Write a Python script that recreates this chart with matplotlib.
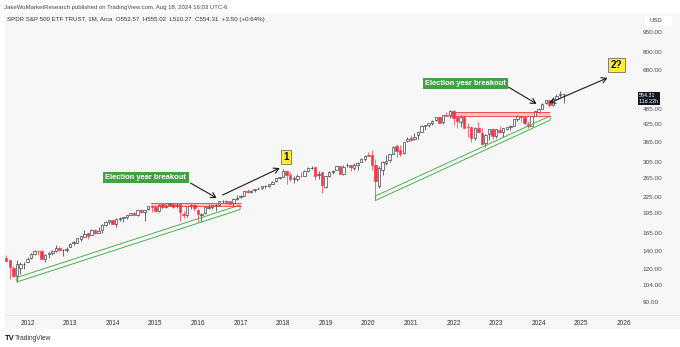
import matplotlib.pyplot as plt
import matplotlib.transforms as mtransforms
from matplotlib.patches import Rectangle, Polygon
from matplotlib.ticker import NullLocator
import numpy as np
import pandas as pd

plt.rcParams['font.family'] = ['Liberation Sans', 'DejaVu Sans']

# SPY monthly bars, Jun 2011 - Aug 2024
months = pd.date_range('2011-06-01', '2024-08-01', freq='MS')

opens = [
    134.9, 132.1, 129.9, 121.3, 113.3, 121.5, 124.9,                       # 2011
    127.8, 131.7, 137.2, 141.1, 140.6, 131.1, 136.4, 137.6, 140.8, 144.2, 141.6, 142.2,  # 2012
    145.1, 150.3, 151.1, 156.6, 159.3, 164.0, 161.9, 169.4, 165.0, 168.9, 176.0, 181.1,  # 2013
    183.9, 178.3, 185.9, 187.7, 188.2, 192.9, 196.1, 193.1, 200.6, 197.3, 201.9, 207.6,  # 2014
    206.4, 199.3, 211.3, 206.6, 209.4, 211.9, 207.5, 211.0, 194.0, 192.1, 208.4, 209.6,  # 2015
    200.5, 192.5, 195.0, 204.4, 206.9, 209.1, 209.5, 217.2, 217.4, 216.8, 212.9, 220.7,  # 2016
    225.0, 227.5, 237.0, 235.8, 238.7, 241.8, 242.9, 247.5, 247.9, 251.5, 258.0, 265.8,  # 2017
    267.8, 281.1, 272.7, 264.0, 263.9, 271.4, 270.4, 281.6, 290.6, 291.8, 271.6, 280.3,  # 2018
    245.9, 270.2, 280.0, 284.7, 294.7, 275.3, 296.7, 297.6, 290.6, 297.7, 304.9, 314.6,  # 2019
    323.5, 323.4, 298.2, 247.9, 285.3, 303.6, 309.6, 328.3, 350.4, 337.7, 330.2, 365.6,  # 2020
    375.3, 373.7, 385.6, 398.4, 419.4, 422.6, 428.9, 440.3, 452.1, 431.0, 460.3, 461.6,  # 2021
    476.3, 450.7, 432.0, 453.3, 414.0, 415.2, 376.6, 409.2, 392.9, 361.8, 390.1, 408.8,  # 2022
    384.4, 405.2, 395.4, 408.9, 415.5, 418.1, 442.9, 456.3, 453.2, 426.6, 419.2, 455.8,  # 2023
    472.2, 484.6, 509.0, 523.8, 501.4, 529.0, 545.6, 552.57,                # 2024
]
highs = [
    135.2, 135.7, 130.0, 123.3, 129.5, 127.3, 127.5,
    133.3, 137.5, 141.5, 142.2, 141.4, 136.5, 139.6, 142.2, 148.1, 146.2, 143.0, 145.5,
    150.6, 153.3, 157.2, 159.7, 169.1, 165.1, 170.0, 170.9, 173.6, 177.5, 181.8, 184.7,
    184.1, 186.6, 189.7, 189.0, 192.8, 196.5, 198.3, 200.6, 201.9, 201.5, 207.3, 209.4,
    206.9, 212.2, 212.0, 212.5, 213.8, 213.3, 213.0, 211.6, 200.0, 208.3, 211.0, 211.0,
    201.9, 196.0, 206.9, 210.9, 210.7, 212.5, 217.5, 219.6, 219.2, 217.3, 222.3, 228.3,
    229.7, 237.3, 240.3, 239.5, 242.1, 245.0, 248.0, 248.9, 251.3, 258.0, 265.5, 268.6,
    286.6, 283.3, 280.0, 269.9, 274.3, 279.5, 284.4, 291.7, 293.9, 291.9, 281.2, 280.4,
    270.5, 281.3, 284.4, 294.5, 294.9, 296.3, 302.2, 298.5, 302.6, 304.6, 315.5, 323.8,
    332.9, 339.1, 313.8, 294.9, 306.8, 323.4, 327.2, 351.3, 358.8, 354.0, 364.4, 378.5,
    385.8, 394.2, 398.0, 420.7, 422.8, 428.8, 441.8, 453.1, 454.1, 459.6, 473.5, 478.8,
    480.0, 458.1, 462.1, 457.8, 429.7, 417.4, 413.0, 431.7, 411.7, 389.5, 407.7, 410.5,
    408.2, 418.3, 409.7, 415.9, 422.6, 444.3, 459.4, 456.6, 453.7, 438.1, 456.4, 477.6,
    490.0, 509.0, 524.6, 524.4, 533.1, 550.3, 565.2, 555.02,
]
lows = [
    126.3, 128.7, 110.3, 112.0, 107.4, 115.1, 119.7,
    127.5, 131.5, 136.0, 135.8, 131.0, 127.1, 131.9, 135.9, 139.5, 140.3, 134.7, 138.9,
    145.0, 148.7, 151.0, 153.6, 158.6, 155.7, 161.2, 163.2, 163.7, 164.5, 174.7, 177.3,
    177.4, 173.7, 183.1, 181.3, 186.2, 192.0, 192.5, 190.6, 195.9, 181.9, 200.9, 196.9,
    198.6, 198.3, 203.3, 204.3, 207.3, 205.2, 203.8, 182.4, 187.1, 189.1, 202.3, 199.8,
    181.0, 181.1, 194.5, 203.1, 202.8, 198.7, 207.5, 214.2, 212.3, 211.2, 208.4, 219.1,
    222.7, 226.8, 232.6, 232.5, 235.4, 240.5, 241.1, 242.9, 246.6, 251.0, 255.4, 262.8,
    267.4, 252.9, 257.8, 254.7, 259.0, 268.5, 269.6, 279.2, 286.7, 259.9, 263.0, 233.8,
    243.7, 268.2, 276.2, 284.4, 275.4, 273.0, 292.5, 281.7, 284.8, 284.8, 304.7, 307.1,
    320.4, 285.5, 218.3, 243.9, 273.0, 296.7, 306.3, 327.7, 319.8, 322.6, 327.2, 362.0,
    368.3, 370.4, 371.9, 398.2, 405.4, 414.7, 422.0, 436.1, 428.8, 426.4, 455.3, 448.9,
    420.8, 410.6, 415.1, 411.2, 380.5, 362.2, 371.0, 395.0, 357.0, 348.1, 368.8, 374.8,
    377.8, 393.6, 380.7, 403.8, 403.7, 416.8, 437.1, 433.0, 422.3, 409.2, 418.7, 454.3,
    466.4, 483.8, 504.9, 493.9, 499.6, 522.6, 537.5, 510.27,
]
closes = [
    132.0, 129.3, 121.7, 113.2, 125.5, 124.9, 125.5,
    131.3, 137.0, 140.8, 139.9, 131.5, 136.1, 137.7, 140.6, 143.9, 141.4, 141.6, 142.4,
    149.7, 151.6, 156.7, 159.7, 163.5, 160.4, 168.7, 163.7, 168.0, 175.8, 181.0, 184.7,
    178.2, 186.3, 187.0, 188.3, 192.7, 195.7, 193.1, 200.7, 197.0, 201.7, 207.2, 205.5,
    199.4, 210.7, 206.4, 208.5, 211.1, 205.9, 210.5, 197.7, 191.6, 207.9, 209.6, 203.9,
    193.7, 193.6, 205.5, 206.3, 209.8, 209.5, 217.1, 217.4, 216.3, 212.6, 220.4, 223.5,
    227.5, 236.5, 235.7, 238.1, 241.4, 241.8, 247.3, 247.5, 251.2, 257.2, 265.0, 266.9,
    281.9, 271.7, 263.2, 264.5, 270.9, 271.3, 281.3, 290.3, 290.7, 270.6, 275.7, 249.9,
    269.9, 278.7, 282.5, 294.0, 275.3, 293.0, 297.4, 292.5, 296.8, 303.3, 314.3, 321.9,
    321.7, 296.3, 257.8, 290.5, 304.3, 308.4, 326.5, 349.3, 334.9, 326.5, 362.1, 373.9,
    370.1, 381.4, 396.3, 417.3, 420.0, 428.1, 438.5, 451.6, 429.1, 459.3, 455.6, 475.0,
    449.9, 436.6, 451.6, 412.0, 412.9, 377.3, 412.0, 395.2, 357.2, 386.2, 407.7, 382.4,
    406.5, 396.3, 409.4, 415.9, 417.9, 443.3, 457.8, 450.4, 427.5, 418.2, 456.4, 475.3,
    482.9, 508.1, 523.1, 502.0, 527.4, 544.2, 550.81, 554.31,
]

price_ticks = [950, 800, 680, 485, 425, 365, 305, 265, 225, 195, 165, 140, 120, 104, 90]
years = list(range(2012, 2027))

W, H = 680, 347
fig = plt.figure(figsize=(W / 100, H / 100), dpi=100, facecolor='white')

# light grey chart panel
fig.add_artist(Rectangle((5 / W, 1 - 329 / H), 1, 316 / H, transform=fig.transFigure,
                         facecolor='#f7f7f7', edgecolor='none', zorder=-10))
fig.add_artist(plt.Line2D([5 / W, 1], [1 - 315 / H] * 2, transform=fig.transFigure,
                          color='#e3e3e3', lw=0.6))

ax = fig.add_axes([5 / W, 1 - 315 / H, 632 / W, 301 / H])
ax.set_facecolor('#f7f7f7')
for s in ax.spines.values():
    s.set_visible(False)

t = months.year + (months.month - 1) / 12
o = np.array(opens)
h = np.array(highs)
l = np.array(lows)
c = np.array(closes)
up = c >= o

up_col = '#2a2e39'
dn_col = '#f23645'
wick_cols = np.where(up, up_col, dn_col)
ax.vlines(t, l, h, colors=wick_cols, lw=0.5, zorder=2)
body_lo = np.minimum(o, c)
body_hi = np.maximum(o, c)
ax.bar(t[up], body_hi[up] - body_lo[up], bottom=body_lo[up], width=0.058,
       facecolor='white', edgecolor=up_col, lw=0.45, zorder=3)
ax.bar(t[~up], body_hi[~up] - body_lo[~up], bottom=body_lo[~up], width=0.058,
       facecolor=dn_col, edgecolor=dn_col, lw=0.45, zorder=3)

ax.set_yscale('log')
ax.set_xlim(2011.4718, 2026.3075)
ax.set_ylim(80.4, 1110.4)

ax.yaxis.tick_right()
ax.set_yticks(price_ticks)
ax.set_yticklabels([f'{p:.2f}' for p in price_ticks])
ax.yaxis.set_minor_locator(NullLocator())
ax.tick_params(axis='y', length=0, pad=4.3, labelsize=4.6, labelcolor='#4a4a4a')
ax.set_xticks(years)
ax.set_xticklabels([str(y) for y in years])
ax.tick_params(axis='x', length=0, pad=3.6, labelsize=4.7, labelcolor='#333333')

# support channels
green = '#4caf50'
for pts in [[(2011.75, 107.2), (2016.99, 201.8), (2016.99, 209.8), (2011.75, 111.5)],
            [(2020.167, 218.3), (2024.27, 440.0), (2024.27, 456.5), (2020.167, 227.0)]]:
    ax.add_patch(Polygon(pts, closed=True, fill=False, edgecolor=green, lw=0.7, zorder=4))

# resistance zones
for x0, x1, p0, p1 in [(2014.9, 2017.02, 208.6, 214.0), (2021.93, 2024.27, 456.0, 474.0)]:
    ax.add_patch(Rectangle((x0, p0), x1 - x0, p1 - p0, facecolor='#f7a1a9', alpha=0.6,
                           edgecolor='none', zorder=1))
    ax.hlines([p0, p1], x0, x1, colors=dn_col, lw=0.6, zorder=4)

green_box = dict(boxstyle='square,pad=0.3', facecolor='#43a047', edgecolor='none')
ax.text(2014.78, 266.6, 'Election year breakout', ha='center', va='center', fontsize=5.4,
        fontweight='bold', color='white', bbox=green_box, zorder=6)
ax.text(2022.28, 606, 'Election year breakout', ha='center', va='center', fontsize=5.4,
        fontweight='bold', color='white', bbox=green_box, zorder=6)

arrow = dict(arrowstyle='->,head_length=0.35,head_width=0.2', color='#1a1a1a', lw=0.8,
             shrinkA=0, shrinkB=0)
ax.annotate('', xy=(2016.44, 223), xytext=(2015.83, 254), arrowprops=arrow, zorder=6)
ax.annotate('', xy=(2017.92, 289.6), xytext=(2016.58, 229), arrowprops=arrow, zorder=6)
ax.annotate('', xy=(2023.95, 507), xytext=(2023.29, 587), arrowprops=arrow, zorder=6)
both = dict(arrow, arrowstyle='<->,head_length=0.35,head_width=0.2')
ax.annotate('', xy=(2025.615, 636), xytext=(2024.25, 511), arrowprops=both, zorder=6)

yellow_box = dict(boxstyle='square,pad=0.25', facecolor='#ffeb3b', edgecolor='#555555', lw=0.5)
ax.text(2018.07, 319, '1', ha='center', va='center', fontsize=7, fontweight='bold',
        color='#111111', bbox=yellow_box, zorder=6)
ax.text(2025.826, 712, '2?', ha='center', va='center', fontsize=7, fontweight='bold',
        color='#111111', bbox=yellow_box, zorder=6)

# last price tag on the price scale
blend = mtransforms.blended_transform_factory(ax.transAxes, ax.transData)
ax.text(1.0035, closes[-1] * 1.006, f'{closes[-1]:.2f}\n11d 22h', transform=blend,
        ha='left', va='top', fontsize=3.9, color='white', linespacing=1.15,
        bbox=dict(boxstyle='square,pad=0.25', facecolor='#131722', edgecolor='none'),
        clip_on=False, zorder=7)

# header and footer
fig.text(4 / W, 1 - 7 / H,
         'JakeWuMarketResearch published on TradingView.com, Aug 18, 2024 16:03 UTC-6',
         fontsize=4.3, color='#444444', va='center')
fig.text(7 / W, 1 - 20 / H,
         'SPDR S&P 500 ETF TRUST, 1M, Arca  O552.57  H555.02  L510.27  C554.31  +3.50 (+0.64%)',
         fontsize=4.45, color='#333333', va='center')
fig.add_artist(Rectangle((645 / W, 1 - 26 / H), 27 / W, 10 / H, transform=fig.transFigure,
                         facecolor='white', edgecolor='none'))
fig.text(650 / W, 1 - 21 / H, 'USD', fontsize=4.2, color='#333333', va='center')
fig.text(5 / W, 1 - 339 / H, 'TV', fontsize=5.5, fontweight='bold', color='#131722', va='center')
fig.text(15 / W, 1 - 339 / H, 'TradingView', fontsize=4.8, color='#333333', va='center')

fig.savefig('out.png', dpi=100, facecolor='white')
